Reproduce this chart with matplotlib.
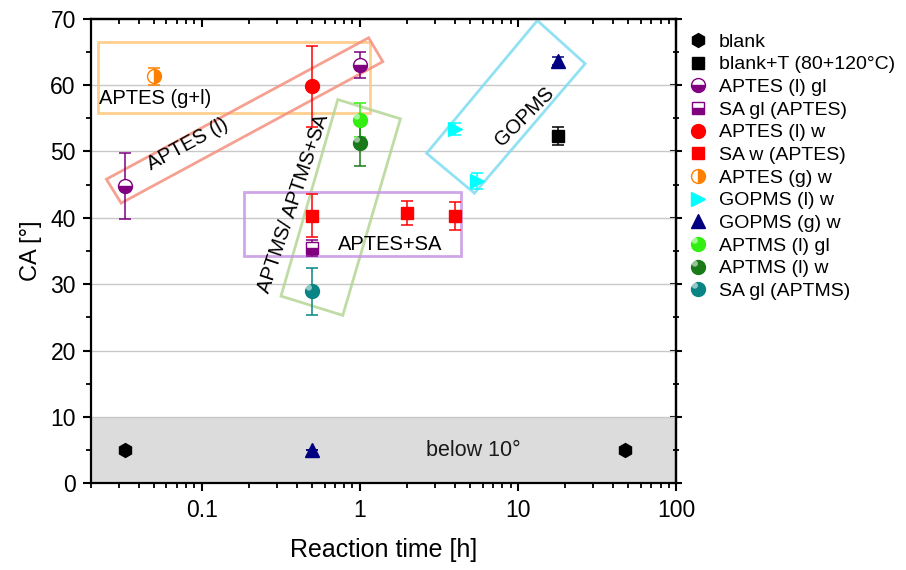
import matplotlib
matplotlib.use("Agg")
import matplotlib.pyplot as plt
import numpy as np
from matplotlib.lines import Line2D
from matplotlib.patches import Polygon
from matplotlib.path import Path
from matplotlib.ticker import MultipleLocator, LogLocator, NullFormatter, FixedLocator, FixedFormatter

plt.rcParams["font.family"] = ["Liberation Sans", "DejaVu Sans"]

# ---- data (reaction time [h], contact angle [deg], error) ----
blank_t = [0.033, 48]
blank_ca = [5, 5]

blank_T_t = [18]
blank_T_ca = [52.3]
blank_T_err = [1.3]

aptes_l_gl_t = [0.033, 1]
aptes_l_gl_ca = [44.8, 63.0]
aptes_l_gl_err = [5.0, 2.0]

sa_gl_aptes_t = [0.5]
sa_gl_aptes_ca = [35.4]
sa_gl_aptes_err = [1.2]

aptes_l_w_t = [0.5]
aptes_l_w_ca = [59.8]
aptes_l_w_err = [6.1]

sa_w_aptes_t = [0.5, 2, 4]
sa_w_aptes_ca = [40.3, 40.7, 40.2]
sa_w_aptes_err = [3.2, 1.8, 2.1]

aptes_g_w_t = [0.05]
aptes_g_w_ca = [61.3]
aptes_g_w_err = [1.3]

gopms_l_w_t = [4, 5.5]
gopms_l_w_ca = [53.4, 45.5]
gopms_l_w_err = [0.9, 1.2]

gopms_g_w_t = [0.5, 18]
gopms_g_w_ca = [5, 63.6]
gopms_g_w_err = [0, 0.6]

aptms_l_gl_t = [1]
aptms_l_gl_ca = [54.7]
aptms_l_gl_err = [2.6]

aptms_l_w_t = [1]
aptms_l_w_ca = [51.3]
aptms_l_w_err = [3.5]

sa_gl_aptms_t = [0.5]
sa_gl_aptms_ca = [28.9]
sa_gl_aptms_err = [3.6]

# group boxes drawn around the data (corners in data coordinates)
box_aptes_gl = [(0.022, 55.8), (1.16, 55.8), (1.16, 66.4), (0.022, 66.4)]
box_aptes_l = [(0.025, 45.8), (0.031, 42.2), (1.40, 63.5), (1.14, 67.1)]
box_aptms = [(0.727, 57.8), (1.81, 54.9), (0.782, 25.3), (0.318, 28.2)]
box_aptes_sa = [(0.185, 34.2), (4.40, 34.2), (4.40, 43.9), (0.185, 43.9)]
box_gopms = [(13.3, 69.7), (26.7, 63.2), (5.32, 43.7), (2.65, 49.7)]

# highlight marker for the "sphere" symbols
_c = Path.unit_circle()
HL = Path(_c.vertices * 0.22 + np.array([-0.26, 0.28]), _c.codes)

series = [
    # label, t, ca, err, marker, color, kwargs, sphere
    ("blank", blank_t, blank_ca, None, "h", "black", {}, False),
    ("blank+T (80+120°C)", blank_T_t, blank_T_ca, blank_T_err, "s", "black", {}, False),
    ("APTES (l) gl", aptes_l_gl_t, aptes_l_gl_ca, aptes_l_gl_err, "o", "#800080",
     dict(fillstyle="bottom", markerfacecoloralt="white"), False),
    ("SA gl (APTES)", sa_gl_aptes_t, sa_gl_aptes_ca, sa_gl_aptes_err, "s", "#800080",
     dict(fillstyle="bottom", markerfacecoloralt="white"), False),
    ("APTES (l) w", aptes_l_w_t, aptes_l_w_ca, aptes_l_w_err, "o", "#ff0000", {}, False),
    ("SA w (APTES)", sa_w_aptes_t, sa_w_aptes_ca, sa_w_aptes_err, "s", "#ff0000", {}, False),
    ("APTES (g) w", aptes_g_w_t, aptes_g_w_ca, aptes_g_w_err, "o", "#ff8000",
     dict(fillstyle="right", markerfacecoloralt="white"), False),
    ("GOPMS (l) w", gopms_l_w_t, gopms_l_w_ca, gopms_l_w_err, ">", "#00ffff", {}, False),
    ("GOPMS (g) w", gopms_g_w_t, gopms_g_w_ca, gopms_g_w_err, "^", "#000080", {}, False),
    ("APTMS (l) gl", aptms_l_gl_t, aptms_l_gl_ca, aptms_l_gl_err, "o", "#33ee11", {}, True),
    ("APTMS (l) w", aptms_l_w_t, aptms_l_w_ca, aptms_l_w_err, "o", "#1a7a1a", {}, True),
    ("SA gl (APTMS)", sa_gl_aptms_t, sa_gl_aptms_ca, sa_gl_aptms_err, "o", "#0a8484", {}, True),
]

msize = {"h": 10, "s": 8.5, "o": 10, ">": 10, "^": 10}

fig = plt.figure(figsize=(9.06, 5.70), dpi=100)
ax = fig.add_axes([0.1005, 0.152, 0.6455, 0.8155])

ax.axhspan(0, 10, color="#dcdcdc", zorder=0, lw=0)
for yv in [10, 20, 30, 40, 50, 60]:
    ax.axhline(yv, color="#c8c8c8", lw=1.0, zorder=0.5)

for pts, col in [(box_aptes_gl, "#ffc77a"), (box_aptes_l, "#f5907e"),
                 (box_aptms, "#b5d696"), (box_aptes_sa, "#c797e4"),
                 (box_gopms, "#7fdcf2")]:
    ax.add_patch(Polygon(pts, closed=True, fill=False, edgecolor=col,
                         lw=2.0, alpha=0.85, zorder=1.5))

handles = []
for label, t, ca, err, mk, col, kw, sphere in series:
    ms = msize[mk]
    ax.errorbar(t, ca, yerr=err, fmt=mk, color=col, ms=ms, mec=col,
                ecolor=col, elinewidth=1.1, capsize=4.5, capthick=1.1,
                zorder=3, **kw)
    h = Line2D([], [], ls="none", marker=mk, color=col, ms=ms, mec=col, **kw)
    if sphere:
        ax.plot(t, ca, ls="none", marker=HL, ms=ms, color="white", mec="none",
                alpha=0.55, zorder=3.2)
        hl = Line2D([], [], ls="none", marker=HL, ms=ms, color="white",
                    mec="none", alpha=0.55)
        h = (h, hl)
    handles.append(h)

# box labels
ax.text(0.0226, 57.9, "APTES (g+l)", fontsize=14.5, ha="left", va="center", zorder=4)
ax.text(0.082, 51.1, "APTES (l)", fontsize=14.5, ha="center", va="center",
        rotation=28.5, rotation_mode="anchor", zorder=4)
ax.text(0.384, 42.2, "APTMS/ APTMS+SA", fontsize=14.5, ha="center", va="center",
        rotation=71.5, rotation_mode="anchor", zorder=4)
ax.text(1.55, 36.0, "APTES+SA", fontsize=14.5, ha="center", va="center", zorder=4)
ax.text(11.0, 55.2, "GOPMS", fontsize=14.5, ha="center", va="center",
        rotation=45, rotation_mode="anchor", zorder=4)
ax.text(5.2, 5, "below 10°", fontsize=15.5, ha="center", va="center",
        color="#1a1a1a", zorder=4)

ax.set_xscale("log")
ax.set_xlim(0.02, 100)
ax.set_ylim(0, 70)
ax.xaxis.set_major_locator(FixedLocator([0.1, 1, 10, 100]))
ax.xaxis.set_major_formatter(FixedFormatter(["0.1", "1", "10", "100"]))
ax.xaxis.set_minor_locator(LogLocator(base=10, subs=np.arange(2, 10)))
ax.xaxis.set_minor_formatter(NullFormatter())
ax.yaxis.set_major_locator(MultipleLocator(10))
ax.yaxis.set_minor_locator(MultipleLocator(5))

ax.tick_params(which="major", direction="out", length=6, width=1.5,
               labelsize=16.5, pad=5)
ax.tick_params(which="minor", direction="out", length=3.5, width=1.3)
for s in ax.spines.values():
    s.set_linewidth(1.6)

top = ax.secondary_xaxis("top")
top.xaxis.set_major_locator(FixedLocator([0.1, 1, 10, 100]))
top.xaxis.set_minor_locator(LogLocator(base=10, subs=np.arange(2, 10)))
top.xaxis.set_major_formatter(NullFormatter())
top.xaxis.set_minor_formatter(NullFormatter())
top.tick_params(which="major", direction="in", length=6, width=1.5)
top.tick_params(which="minor", direction="in", length=3.5, width=1.3)
top.spines["top"].set_linewidth(1.6)

right = ax.secondary_yaxis("right")
right.yaxis.set_major_locator(MultipleLocator(10))
right.yaxis.set_minor_locator(MultipleLocator(5))
right.yaxis.set_major_formatter(NullFormatter())
right.tick_params(which="major", direction="inout", length=8, width=1.5)
right.tick_params(which="minor", direction="inout", length=5, width=1.3)
right.spines["right"].set_linewidth(1.6)

ax.set_xlabel("Reaction time [h]", fontsize=18, labelpad=12)
ax.set_ylabel("CA [°]", fontsize=17, labelpad=6)

fig.legend(handles, [s[0] for s in series], loc="upper left",
           bbox_to_anchor=(0.76, 0.942), frameon=False, fontsize=14,
           handlelength=1.0, handletextpad=0.55, labelspacing=0.26,
           borderpad=0, borderaxespad=0)

fig.savefig("out.png", dpi=100)
